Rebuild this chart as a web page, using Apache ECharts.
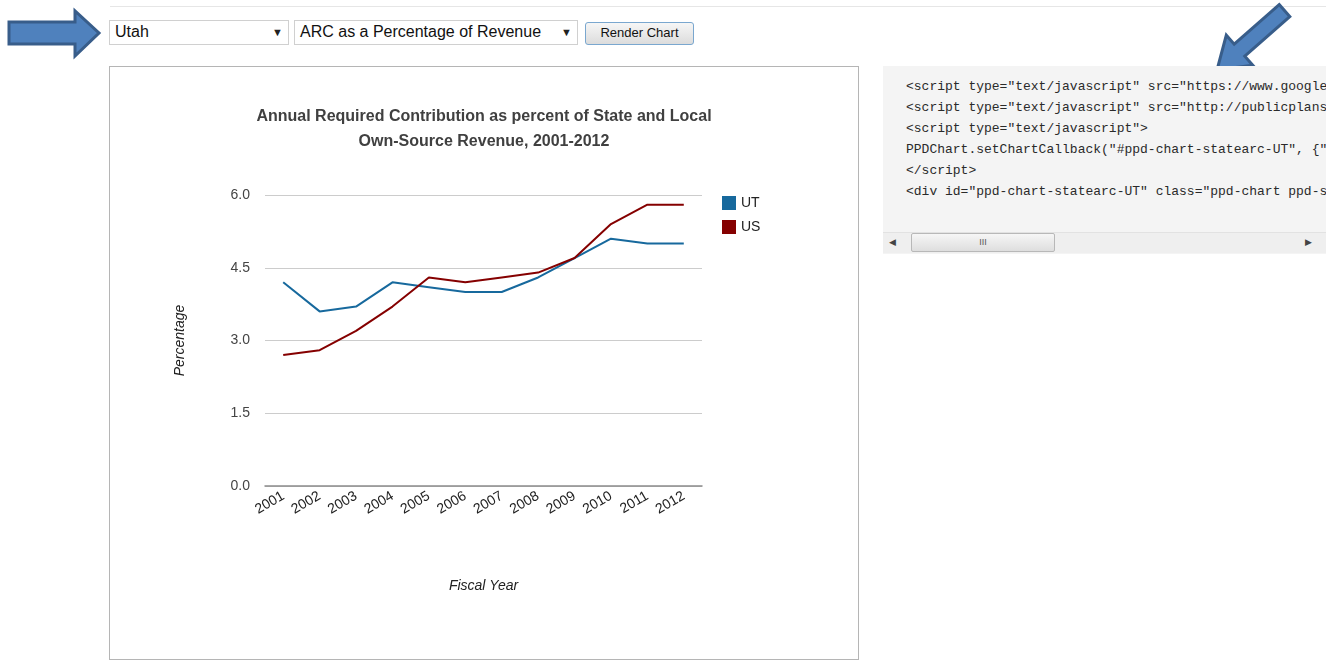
<!DOCTYPE html>
<html>
<head>
<meta charset="utf-8">
<script src="https://cdn.jsdelivr.net/npm/echarts@6/dist/echarts.min.js"></script>
<style>
  html, body { margin: 0; padding: 0; background: #fff; width: 1326px; height: 660px; overflow: hidden; font-family: "Liberation Sans", Arial, sans-serif; }
  .abs { position: absolute; box-sizing: border-box; }
  .topline { left: 110px; top: 6px; width: 1216px; height: 1px; background: #e6e6e6; }
  .sel { border: 1px solid #d0d0d0; background: #fff; font-size: 16px; color: #111; padding: 2px 0 0 5px; height: 25px; }
  .sel .tri { position: absolute; right: 5px; top: 5px; font-size: 11px; color: #222; }
  .btn { border: 1px solid #7aa7cf; border-radius: 3px; background: linear-gradient(#f6f6f6, #dcdcdc); font-size: 13px; color: #111; text-align: center; line-height: 20px; }
  #chartbox { left: 109px; top: 66px; width: 750px; height: 594px; border: 1px solid #b5b5b5; }
  #chart { width: 748px; height: 592px; }
  .code { left: 883px; top: 66px; width: 443px; height: 188px; background: #f4f4f4; font-family: "Liberation Mono", "DejaVu Sans Mono", monospace; font-size: 13px; color: #2a2a2a; padding: 11px 0 0 23px; white-space: pre; line-height: 20.9px; overflow: hidden; }
  .scroll { left: 883px; top: 232px; width: 443px; height: 21px; background: #efefef; border-top: 1px solid #e2e2e2; }
  .thumb { left: 911px; top: 233px; width: 144px; height: 19px; border: 1px solid #b8b8b8; border-radius: 2px; background: linear-gradient(#f6f6f6, #dedede); font-size: 9px; color: #555; text-align: center; line-height: 17px; }
</style>
</head>
<body>
<div class="abs topline"></div>

<svg class="abs" style="left:0;top:0" width="1326" height="80">
  <polygon points="9,22 75,22 75,11 99,33 75,56 75,44 9,44" fill="#4f81bd" stroke="#385d8a" stroke-width="3" stroke-linejoin="miter"/>
  <polygon points="1279.2,4.6 1289.8,16.6 1244.8,56.2 1252.7,65.2 1217,70 1226.3,35.2 1234.2,44.2" fill="#4f81bd" stroke="#385d8a" stroke-width="3" stroke-linejoin="miter"/>
</svg>

<div class="abs sel" style="left:109px;top:20px;width:180px;">Utah<span class="tri">&#9660;</span></div>
<div class="abs sel" style="left:294px;top:20px;width:284px;">ARC as a Percentage of Revenue<span class="tri">&#9660;</span></div>
<div class="abs btn" style="left:585px;top:22px;width:109px;height:23px;">Render Chart</div>

<div class="abs" id="chartbox"><div id="chart"></div></div>

<div class="abs code">&lt;script type="text/javascript" src="https://www.google.com/jsapi"&gt;&lt;/script&gt;
&lt;script type="text/javascript" src="http://publicplansdata.org/chart.js"&gt;&lt;/script&gt;
&lt;script type="text/javascript"&gt;
PPDChart.setChartCallback("#ppd-chart-statearc-UT", {"state":"UT"});
&lt;/script&gt;
&lt;div id="ppd-chart-statearc-UT" class="ppd-chart ppd-statearc"&gt;&lt;/div&gt;</div>
<div class="abs scroll"></div>
<div class="abs" style="left:889px;top:237px;font-size:9px;color:#444;">&#9664;</div>
<div class="abs" style="left:1305px;top:237px;font-size:9px;color:#444;">&#9654;</div>
<div class="abs thumb">III</div>

<script>
const years = ['2001','2002','2003','2004','2005','2006','2007','2008','2009','2010','2011','2012'];
const utValues = [4.2, 3.6, 3.7, 4.2, 4.1, 4.0, 4.0, 4.3, 4.7, 5.1, 5.0, 5.0];
const usValues = [2.7, 2.8, 3.2, 3.7, 4.3, 4.2, 4.3, 4.4, 4.7, 5.4, 5.8, 5.8];
const yTicks = [0, 1.5, 3.0, 4.5, 6.0];
const titleText = 'Annual Required Contribution as percent of State and Local\nOwn-Source Revenue, 2001-2012';

const chart = echarts.init(document.getElementById('chart'), null, { renderer: 'canvas' });
chart.setOption({
  animation: false,
  textStyle: { fontFamily: 'Liberation Sans, Arial, sans-serif' },
  title: {
    text: titleText,
    left: 369,
    top: 32,
    textAlign: 'center',
    textStyle: { fontSize: 16, fontWeight: 'bold', color: '#404040', lineHeight: 25, align: 'center', fontFamily: 'Liberation Sans, Arial, sans-serif' }
  },
  legend: {
    orient: 'vertical',
    left: 607,
    top: 124,
    itemWidth: 14,
    itemHeight: 14,
    itemGap: 10,
    icon: 'rect',
    textStyle: { fontSize: 14, color: '#222' },
    data: ['UT', 'US']
  },
  grid: { left: 155, top: 128, width: 437, height: 291, containLabel: false },
  xAxis: {
    type: 'category',
    data: years,
    boundaryGap: true,
    name: 'Fiscal Year',
    nameLocation: 'middle',
    nameGap: 93,
    nameTextStyle: { fontSize: 14, fontStyle: 'italic', color: '#222' },
    axisLine: { show: true, lineStyle: { color: '#8c8c8c', width: 1.5 } },
    axisTick: { show: false },
    axisLabel: { rotate: 30, fontSize: 14, color: '#222', margin: 9, interval: 0 }
  },
  yAxis: {
    type: 'value',
    min: yTicks[0],
    max: yTicks[yTicks.length - 1],
    interval: 1.5,
    name: 'Percentage',
    nameLocation: 'middle',
    nameGap: 78,
    nameTextStyle: { fontSize: 14, fontStyle: 'italic', color: '#222' },
    axisLine: { show: false },
    axisTick: { show: false },
    axisLabel: { fontSize: 14, color: '#444', margin: 15, formatter: v => v.toFixed(1) },
    splitLine: { lineStyle: { color: '#cccccc', width: 1 } }
  },
  series: [
    {
      name: 'UT', type: 'line', data: utValues, symbol: 'none',
      itemStyle: { color: '#17699d' },
      lineStyle: { color: '#17699d', width: 2 },
      z: 3
    },
    {
      name: 'US', type: 'line', data: usValues, symbol: 'none',
      itemStyle: { color: '#850000' },
      lineStyle: { color: '#850000', width: 2 },
      z: 4
    }
  ]
});
</script>
</body>
</html>
